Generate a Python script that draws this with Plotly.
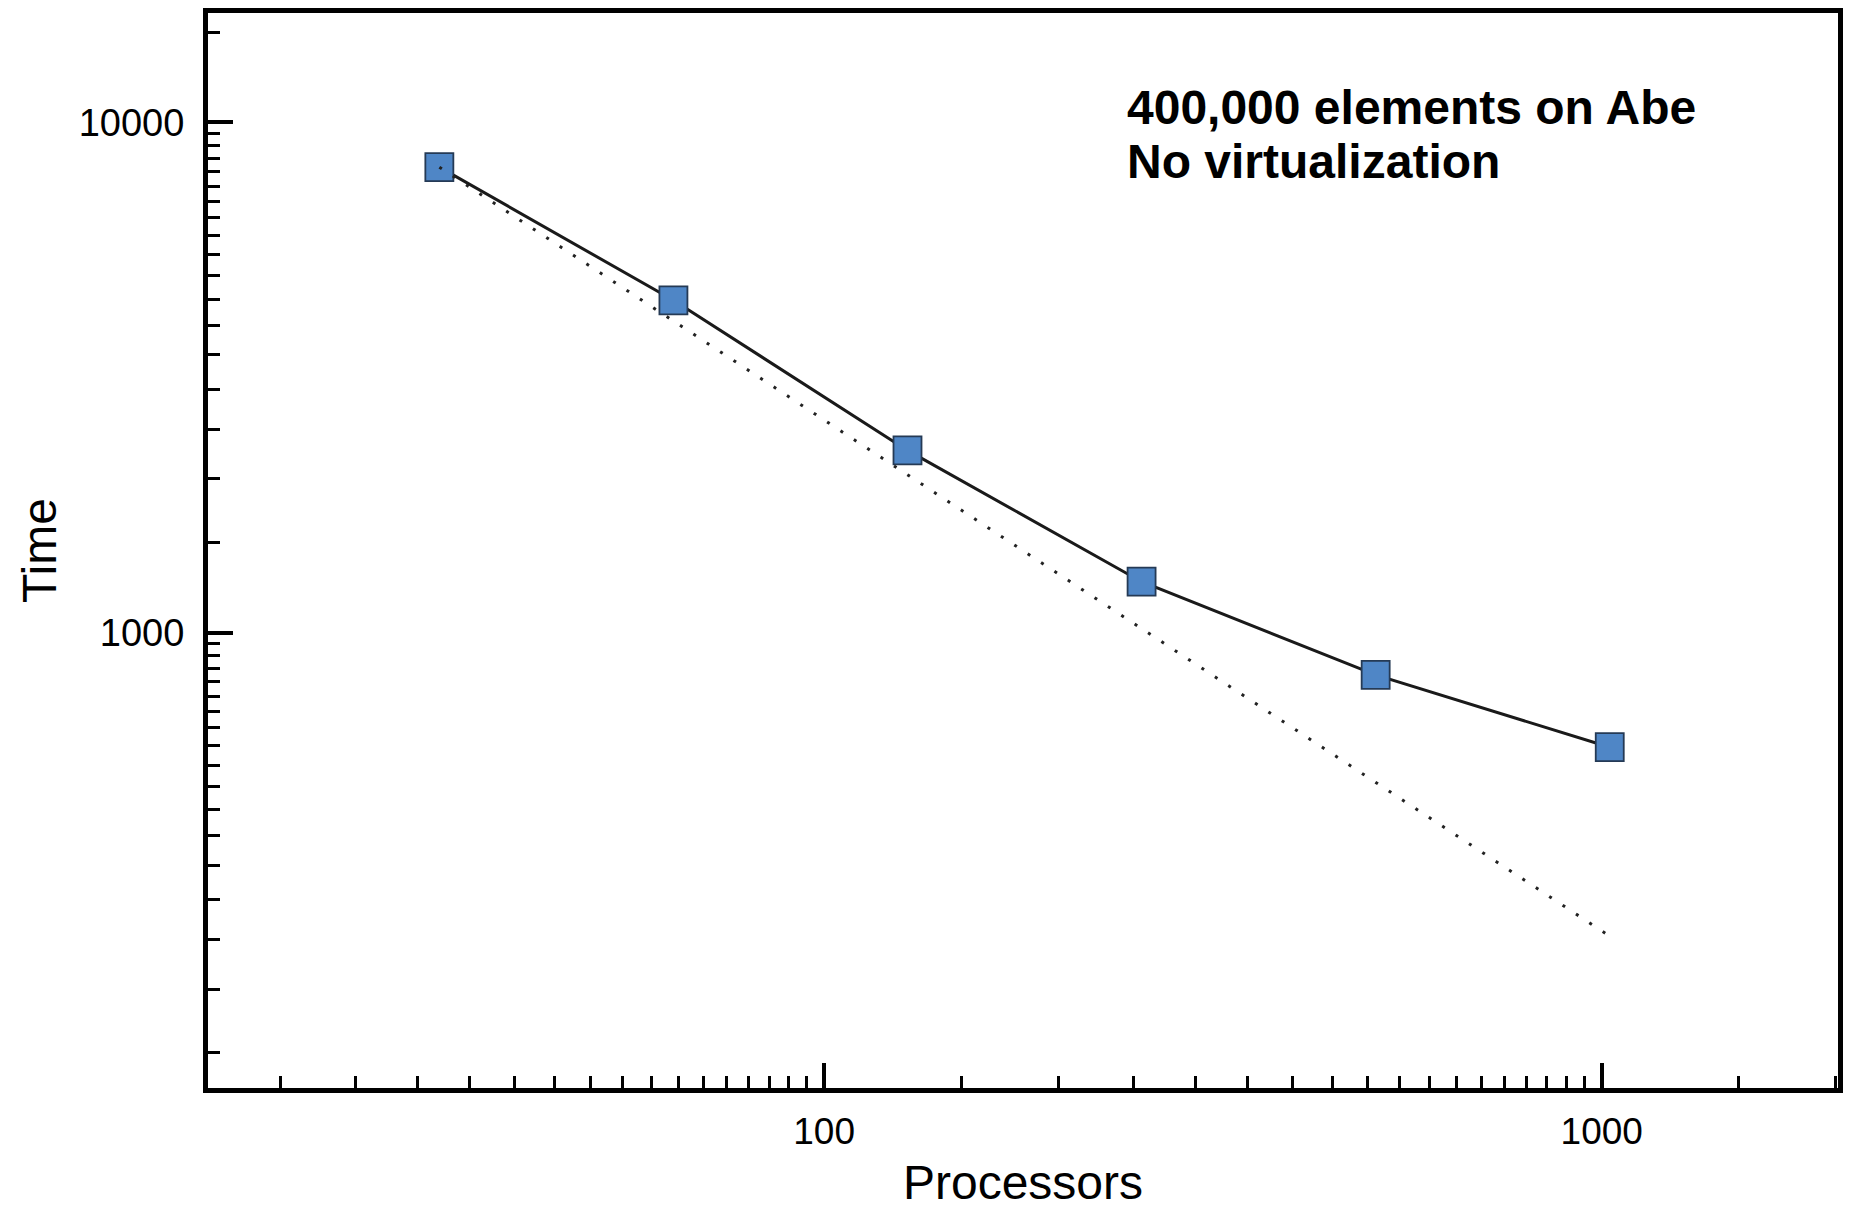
import math
import plotly.graph_objects as go

# ---- data ----
processors = [32, 64, 128, 256, 512, 1024]
time_measured = [8170, 4480, 2275, 1258, 826, 596]

ideal_processors = [32, 1024]
ideal_time = [8170, 254]

# ---- tick labels / tick positions ----
x_major_ticks = [100, 1000]
x_major_labels = ["100", "1000"]
x_minor_ticks = [20, 25, 30, 35, 40, 45, 50, 55, 60, 65, 70, 75, 80, 85, 90, 95,
                 150, 200, 250, 300, 350, 400, 450, 500, 550, 600, 650, 700, 750,
                 800, 850, 900, 950, 1500, 2000]
y_major_ticks = [1000, 10000]
y_major_labels = ["1000", "10000"]
y_minor_ticks = [150, 200, 250, 300, 350, 400, 450, 500, 550, 600, 650, 700, 750,
                 800, 850, 900, 950, 1500, 2000, 2500, 3000, 3500, 4000, 4500, 5000,
                 5500, 6000, 6500, 7000, 7500, 8000, 8500, 9000, 9500, 15000]
x_range = [16.13, 2013]
y_range = [128, 16384]

annotation_lines = ["400,000 elements on Abe", "No virtualization"]
x_title = "Processors"
y_title = "Time"

FONT = "Liberation Sans, Arial, Helvetica, sans-serif"
MINOR_COLOR = "black"

xr = [math.log10(x_range[0]), math.log10(x_range[1])]
yr = [math.log10(y_range[0]), math.log10(y_range[1])]

fig = go.Figure()

fig.add_trace(go.Scatter(
    x=processors, y=time_measured, mode="lines+markers",
    line=dict(color="#1a1a1a", width=3),
    marker=dict(symbol="square", size=28, color="#4F86C6",
                line=dict(color="#253a55", width=1.8)),
    showlegend=False, hoverinfo="x+y",
))

fig.add_trace(go.Scatter(
    x=ideal_processors, y=ideal_time, mode="lines",
    line=dict(color="#222222", width=3, dash="3px,13px"),
    showlegend=False, hoverinfo="skip",
))

axis_common = dict(
    type="log",
    showline=True, linecolor="black", linewidth=5, mirror=True,
    showgrid=False, zeroline=False,
    ticks="inside", tickcolor="black", tickwidth=4, ticklen=25,
)

fig.update_layout(
    xaxis=dict(
        **axis_common, range=xr,
        tickmode="array", tickvals=x_major_ticks, ticktext=x_major_labels,
        tickfont=dict(family=FONT, size=37, color="black"),
        ticklabelstandoff=7,
        minor=dict(tickmode="array", tickvals=x_minor_ticks, ticks="inside",
                   ticklen=12, tickwidth=3, tickcolor=MINOR_COLOR, showgrid=False),
        title=dict(text=x_title, font=dict(family=FONT, size=48, color="black"),
                   standoff=23),
    ),
    yaxis=dict(
        **axis_common, range=yr,
        tickmode="array", tickvals=y_major_ticks, ticktext=y_major_labels,
        tickfont=dict(family=FONT, size=38, color="black"),
        ticklabelstandoff=11,
        minor=dict(tickmode="array", tickvals=y_minor_ticks, ticks="inside",
                   ticklen=12, tickwidth=3, tickcolor=MINOR_COLOR, showgrid=False),
        title=dict(text=y_title, font=dict(family=FONT, size=48, color="black"),
                   standoff=8),
    ),
)

ann_y = [0.9121, 0.8617]
for txt, yy in zip(annotation_lines, ann_y):
    fig.add_annotation(
        text="<b>" + txt + "</b>", xref="paper", yref="paper",
        x=0.5627, y=yy, xanchor="left", yanchor="middle", showarrow=False,
        font=dict(family=FONT, size=48, color="black"),
    )

fig.update_layout(
    width=1835, height=1201, autosize=False,
    margin=dict(l=200, r=0, t=1, b=108, pad=0),
    paper_bgcolor="white", plot_bgcolor="white",
    font=dict(family=FONT, color="black"),
)

fig.write_html("out.html")
